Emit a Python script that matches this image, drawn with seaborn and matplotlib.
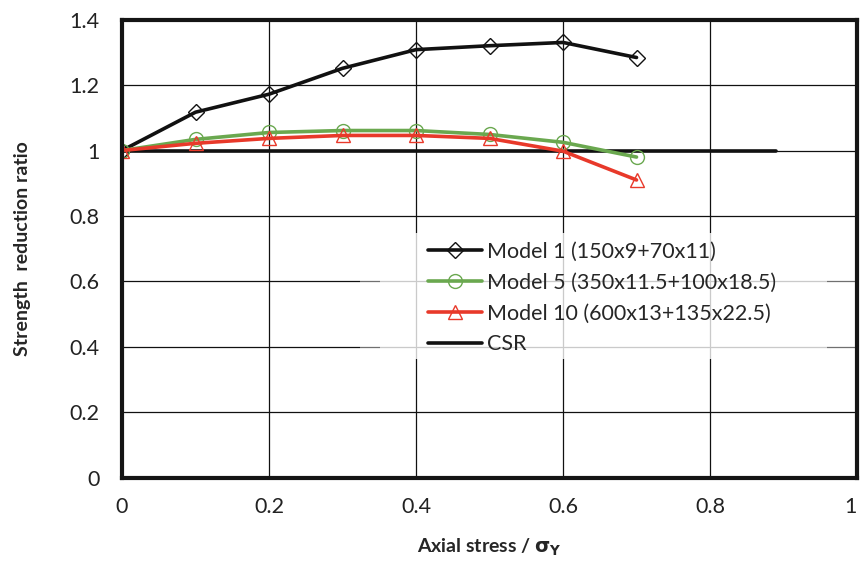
import matplotlib
matplotlib.use("Agg")
import matplotlib.pyplot as plt
from matplotlib.patches import Rectangle
import seaborn as sns

# Axial stress levels (normalised by yield stress)
axial_stress = [0.0, 0.1, 0.2, 0.3, 0.4, 0.5, 0.6, 0.7]

# Strength reduction ratios for each stiffener model
model1 = [1.0, 1.117, 1.172, 1.251, 1.308, 1.320, 1.330, 1.284]
model5 = [1.0, 1.034, 1.055, 1.061, 1.061, 1.049, 1.025, 0.980]
model10 = [1.0, 1.022, 1.037, 1.046, 1.046, 1.037, 0.998, 0.910]

# CSR reference level
csr_x = [0.0, 0.89]
csr_y = [1.0, 1.0]

labels = ["Model 1 (150x9+70x11)", "Model 5 (350x11.5+100x18.5)",
          "Model 10 (600x13+135x22.5)", "CSR"]
x_ticks = [0, 0.2, 0.4, 0.6, 0.8, 1]
x_tick_labels = ["0", "0.2", "0.4", "0.6", "0.8", "1"]
y_ticks = [0, 0.2, 0.4, 0.6, 0.8, 1.0, 1.2, 1.4]
y_tick_labels = ["0", "0.2", "0.4", "0.6", "0.8", "1", "1.2", "1.4"]

sns.set_theme(style="white")
plt.rcParams["font.family"] = ["Lato", "DejaVu Sans"]

fig = plt.figure(figsize=(8.61, 5.61), dpi=100)
ax = fig.add_axes([0.1417, 0.148, 0.8537, 0.8172])

green = "#6aa84f"
red = "#e8392a"
black = "#111111"

common = dict(linewidth=2.6, markersize=10, markerfacecolor="none",
              markeredgewidth=1.0, ax=ax)

sns.lineplot(x=axial_stress, y=model1, color=black, marker="D",
             markeredgecolor=black, label=labels[0], zorder=4,
             **{**common, "markersize": 8})
sns.lineplot(x=axial_stress, y=model5, color=green, marker="o",
             markeredgecolor=green, label=labels[1], zorder=4, **common)
sns.lineplot(x=axial_stress, y=model10, color=red, marker="^",
             markeredgecolor=red, label=labels[2], zorder=4, **common)
sns.lineplot(x=csr_x, y=csr_y, color=black, linewidth=2.6,
             label=labels[3], ax=ax, zorder=3)

ax.set_xlim(0, 1)
ax.set_ylim(0, 1.4)
ax.set_xticks(x_ticks)
ax.set_xticklabels(x_tick_labels)
ax.set_yticks(y_ticks)
ax.set_yticklabels(y_tick_labels)
ax.tick_params(axis="both", length=0, labelsize=15.5, colors="#222222")
ax.tick_params(axis="y", pad=16)
ax.tick_params(axis="x", pad=14)
# keep the last x label inside the figure edge
ax.get_xticklabels()[-1].set_horizontalalignment("right")

ax.grid(True, color="#111111", linewidth=0.9)
ax.set_axisbelow(True)
for side in ["top", "right", "left", "bottom"]:
    ax.spines[side].set_visible(True)
    ax.spines[side].set_color("#151515")
    ax.spines[side].set_linewidth(3.0)
    ax.spines[side].set_zorder(5)

ax.set_xlabel(r"Axial stress / $\mathbf{\sigma_Y}$", fontsize=14,
              fontweight="bold", labelpad=14)
ax.set_ylabel("Strength  reduction ratio", fontsize=14,
              fontweight="bold", labelpad=28)

# translucent panels behind the legend, letting the grid show faintly
ax.add_patch(Rectangle((0.3238, 0.2595), 0.6762, 0.2745, transform=ax.transAxes,
                       facecolor="white", alpha=0.4, edgecolor="none",
                       zorder=2))
ax.add_patch(Rectangle((0.351, 0.2595), 0.608, 0.2745, transform=ax.transAxes,
                       facecolor="white", alpha=0.63, edgecolor="none",
                       zorder=2))

leg = ax.legend(loc="upper left", bbox_to_anchor=(0.4163, 0.515),
                frameon=False, fontsize=15.5, handlelength=2.5,
                handletextpad=0.25, labelspacing=0.5, borderpad=0,
                borderaxespad=0)

fig.savefig("out.png", dpi=100)
